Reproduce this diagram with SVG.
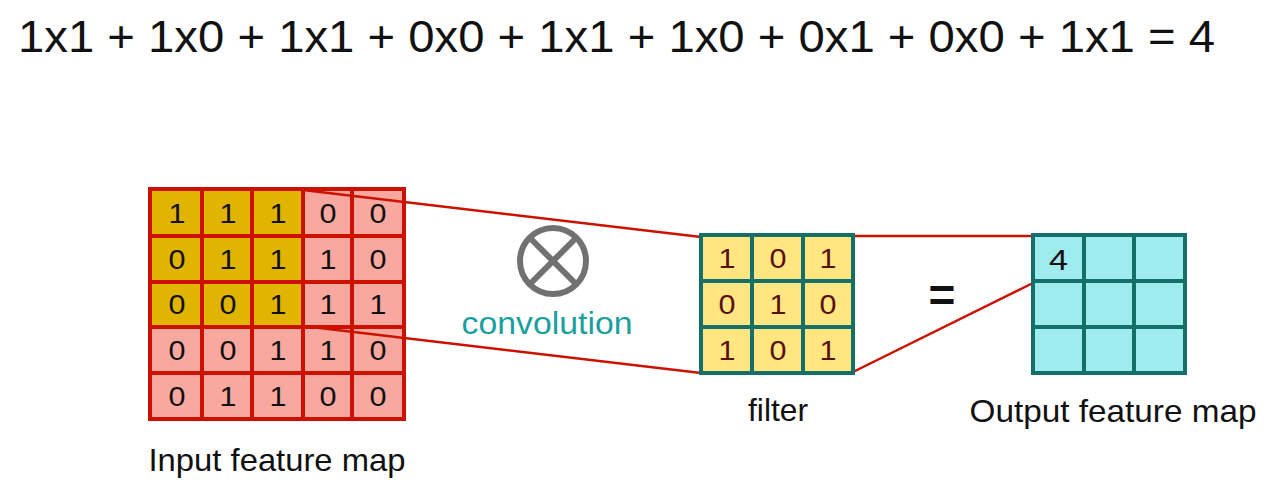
<svg xmlns="http://www.w3.org/2000/svg" width="1280" height="486" viewBox="0 0 1280 486">
<style>
text{font-family:"Liberation Sans",Arial,sans-serif;}
.eq{font-size:44px;fill:#111;}
.d{font-size:27px;text-anchor:middle;fill:#111;}
.df{font-size:27px;text-anchor:middle;fill:#5a0f0f;}
.lbl{font-size:32px;text-anchor:middle;fill:#111;}
.y{fill:#e1b400;}
.p{fill:#f9a8a0;}
.gr{stroke:#cc1100;stroke-width:4;fill:none;}
.gt{stroke:#146e6a;stroke-width:4;fill:none;}
.con{stroke:#cc1100;stroke-width:2.5;fill:none;}
</style>
<rect width="1280" height="486" fill="#fff"/>
<text class="eq" x="18" y="52" textLength="1197" lengthAdjust="spacingAndGlyphs">1x1 + 1x0 + 1x1 + 0x0 + 1x1 + 1x0 + 0x1 + 0x0 + 1x1 = 4</text>

<g id="input">
<rect class="p" x="150" y="189" width="254" height="230"/>
<rect class="y" x="150" y="189" width="153" height="138"/>
<path class="gr" d="M150 189H404V419H150Z M202 189V419 M252 189V419 M303 189V419 M352 189V419 M150 236H404 M150 282H404 M150 327H404 M150 373H404"/>
<g class="d">
<text x="177" y="223" textLength="17" lengthAdjust="spacingAndGlyphs">1</text><text x="228" y="223" textLength="17" lengthAdjust="spacingAndGlyphs">1</text><text x="278" y="223" textLength="17" lengthAdjust="spacingAndGlyphs">1</text><text x="328" y="223" textLength="17" lengthAdjust="spacingAndGlyphs">0</text><text x="378" y="223" textLength="17" lengthAdjust="spacingAndGlyphs">0</text>
<text x="177" y="269" textLength="17" lengthAdjust="spacingAndGlyphs">0</text><text x="228" y="269" textLength="17" lengthAdjust="spacingAndGlyphs">1</text><text x="278" y="269" textLength="17" lengthAdjust="spacingAndGlyphs">1</text><text x="328" y="269" textLength="17" lengthAdjust="spacingAndGlyphs">1</text><text x="378" y="269" textLength="17" lengthAdjust="spacingAndGlyphs">0</text>
<text x="177" y="314" textLength="17" lengthAdjust="spacingAndGlyphs">0</text><text x="228" y="314" textLength="17" lengthAdjust="spacingAndGlyphs">0</text><text x="278" y="314" textLength="17" lengthAdjust="spacingAndGlyphs">1</text><text x="328" y="314" textLength="17" lengthAdjust="spacingAndGlyphs">1</text><text x="378" y="314" textLength="17" lengthAdjust="spacingAndGlyphs">1</text>
<text x="177" y="360" textLength="17" lengthAdjust="spacingAndGlyphs">0</text><text x="228" y="360" textLength="17" lengthAdjust="spacingAndGlyphs">0</text><text x="278" y="360" textLength="17" lengthAdjust="spacingAndGlyphs">1</text><text x="328" y="360" textLength="17" lengthAdjust="spacingAndGlyphs">1</text><text x="378" y="360" textLength="17" lengthAdjust="spacingAndGlyphs">0</text>
<text x="177" y="406" textLength="17" lengthAdjust="spacingAndGlyphs">0</text><text x="228" y="406" textLength="17" lengthAdjust="spacingAndGlyphs">1</text><text x="278" y="406" textLength="17" lengthAdjust="spacingAndGlyphs">1</text><text x="328" y="406" textLength="17" lengthAdjust="spacingAndGlyphs">0</text><text x="378" y="406" textLength="17" lengthAdjust="spacingAndGlyphs">0</text>
</g>
<text class="lbl" x="277" y="471" textLength="257" lengthAdjust="spacingAndGlyphs">Input feature map</text>
</g>

<g id="connectors">
<line class="con" x1="303" y1="190" x2="701" y2="237"/>
<line class="con" x1="303" y1="326" x2="701" y2="373"/>
<line class="con" x1="853" y1="236" x2="1033" y2="236"/>
<line class="con" x1="853" y1="372" x2="1033" y2="283"/>
</g>

<g id="operator">
<circle cx="553" cy="261" r="33" fill="none" stroke="#717171" stroke-width="6"/>
<path d="M530 238L576 284M576 238L530 284" stroke="#717171" stroke-width="6"/>
<text x="547" y="334" font-size="31" text-anchor="middle" fill="#1aa09c" textLength="171" lengthAdjust="spacingAndGlyphs">convolution</text>
</g>

<g id="filter">
<rect x="701" y="235" width="152" height="138" fill="#ffe680"/>
<path class="gt" d="M701 235H853V373H701Z M752 235V373 M803 235V373 M701 281H853 M701 327H853"/>
<g class="df">
<text x="727" y="268" textLength="17" lengthAdjust="spacingAndGlyphs">1</text><text x="778" y="268" textLength="17" lengthAdjust="spacingAndGlyphs">0</text><text x="828" y="268" textLength="17" lengthAdjust="spacingAndGlyphs">1</text>
<text x="727" y="314" textLength="17" lengthAdjust="spacingAndGlyphs">0</text><text x="778" y="314" textLength="17" lengthAdjust="spacingAndGlyphs">1</text><text x="828" y="314" textLength="17" lengthAdjust="spacingAndGlyphs">0</text>
<text x="727" y="360" textLength="17" lengthAdjust="spacingAndGlyphs">1</text><text x="778" y="360" textLength="17" lengthAdjust="spacingAndGlyphs">0</text><text x="828" y="360" textLength="17" lengthAdjust="spacingAndGlyphs">1</text>
</g>
<text class="lbl" x="778" y="421" textLength="60" lengthAdjust="spacingAndGlyphs">filter</text>
</g>

<g id="equals">
<text x="942" y="311" font-size="46" text-anchor="middle" fill="#111" font-weight="bold">=</text>
</g>

<g id="output">
<rect x="1033" y="235" width="152" height="138" fill="#9eeced"/>
<path class="gt" d="M1033 235H1185V373H1033Z M1084 235V373 M1134 235V373 M1033 281H1185 M1033 327H1185"/>
<text x="1049" y="270" font-size="30" fill="#111" textLength="19" lengthAdjust="spacingAndGlyphs">4</text>
<text class="lbl" x="1113" y="422" textLength="287" lengthAdjust="spacingAndGlyphs">Output feature map</text>
</g>
</svg>
